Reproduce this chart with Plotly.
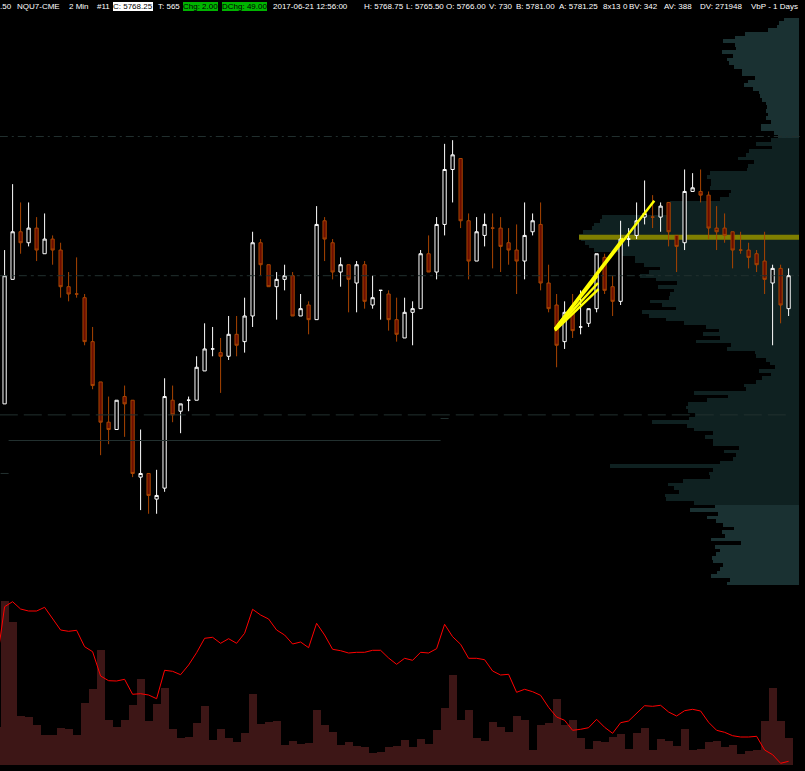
import plotly.graph_objects as go

# ---------------- price candles (2 min bars, index 0..98) ----------------
opens = [5759.5, 5768.0, 5771.25, 5770.5, 5771.5, 5769.75, 5770.75, 5770.0, 5767.5, 5767.0,
         5766.75, 5763.75, 5761.0, 5758.25, 5757.75, 5760.0, 5759.75, 5754.5, 5754.75, 5753.0,
         5753.75, 5759.75, 5759.0, 5759.75, 5759.75, 5761.75, 5763.25, 5763.0, 5762.75, 5764.25,
         5763.75, 5765.5, 5770.5, 5769.0, 5767.5, 5768.0, 5768.25, 5765.5, 5766.25, 5765.25,
         5772.0, 5770.5, 5768.5, 5769.0, 5767.75, 5769.0, 5766.25, 5767.25, 5767.0, 5765.25,
         5764.0, 5765.75, 5766.0, 5769.75, 5768.5, 5771.75, 5775.5, 5776.25, 5772.0, 5769.25,
         5771.0, 5771.5, 5771.5, 5770.5, 5770.0, 5769.25, 5771.25, 5771.75, 5767.75, 5766.25,
         5763.75, 5766.0, 5764.75, 5765.0, 5766.0, 5769.5, 5767.5, 5766.5, 5770.75, 5771.0,
         5772.25, 5772.25, 5772.25, 5773.25, 5771.0, 5770.5, 5774.0, 5774.0, 5773.75, 5771.5,
         5771.5, 5771.25, 5770.0, 5770.0, 5769.75, 5769.25, 5767.75, 5768.75, 5766.0]
highs = [5770.0, 5774.5, 5773.25, 5773.25, 5772.25, 5772.5, 5771.0, 5770.5, 5768.5, 5769.5,
         5767.0, 5764.75, 5761.0, 5760.0, 5759.75, 5760.75, 5759.75, 5757.75, 5754.75, 5755.0,
         5761.25, 5760.75, 5759.5, 5760.0, 5762.75, 5765.0, 5764.75, 5764.0, 5765.5, 5765.5,
         5766.75, 5771.25, 5770.75, 5769.0, 5768.5, 5769.0, 5768.5, 5767.0, 5766.5, 5773.0,
         5772.25, 5770.75, 5769.5, 5769.0, 5769.25, 5769.25, 5768.25, 5767.25, 5767.25, 5766.75,
         5766.75, 5766.5, 5770.0, 5771.0, 5772.25, 5777.25, 5777.5, 5776.25, 5772.5, 5772.25,
         5772.5, 5772.5, 5772.25, 5771.5, 5771.75, 5773.25, 5772.5, 5773.25, 5769.0, 5767.0,
         5766.5, 5767.0, 5767.25, 5766.0, 5769.75, 5769.75, 5768.25, 5772.0, 5771.5, 5773.25,
         5774.75, 5773.75, 5773.25, 5773.25, 5771.0, 5775.5, 5775.25, 5775.5, 5774.0, 5773.0,
         5772.5, 5771.25, 5771.25, 5770.5, 5770.0, 5771.25, 5769.0, 5769.0, 5768.75]
lows = [5759.5, 5768.0, 5769.75, 5770.25, 5769.25, 5769.75, 5769.0, 5766.75, 5766.5, 5766.75,
        5763.5, 5760.5, 5756.0, 5756.75, 5757.75, 5757.25, 5754.5, 5752.25, 5752.0, 5752.0,
        5753.5, 5758.25, 5757.5, 5759.0, 5759.75, 5761.75, 5762.75, 5760.25, 5762.5, 5762.75,
        5763.0, 5764.75, 5768.25, 5767.5, 5765.25, 5767.25, 5765.5, 5765.5, 5764.25, 5765.25,
        5769.25, 5768.0, 5767.5, 5765.75, 5765.75, 5766.0, 5766.0, 5765.25, 5764.5, 5763.75,
        5764.0, 5763.5, 5766.0, 5768.5, 5768.0, 5771.0, 5773.25, 5771.5, 5768.0, 5769.25,
        5770.25, 5768.75, 5768.5, 5769.0, 5767.0, 5768.0, 5771.0, 5767.25, 5765.75, 5762.0,
        5763.25, 5764.0, 5764.25, 5764.75, 5765.75, 5767.0, 5765.5, 5766.25, 5770.25, 5770.75,
        5771.75, 5771.5, 5771.25, 5770.25, 5768.5, 5770.0, 5774.0, 5773.25, 5770.75, 5770.0,
        5770.5, 5768.75, 5769.75, 5768.75, 5768.5, 5767.0, 5763.5, 5765.0, 5765.5]
closes = [5768.25, 5771.25, 5770.5, 5771.5, 5770.0, 5770.75, 5770.0, 5767.5, 5767.0, 5767.0,
          5763.75, 5760.75, 5758.25, 5757.75, 5759.75, 5759.5, 5754.75, 5754.75, 5753.25, 5753.25,
          5760.0, 5758.75, 5759.5, 5759.75, 5762.0, 5763.25, 5763.25, 5762.75, 5764.25, 5763.5,
          5765.5, 5770.5, 5769.0, 5767.5, 5768.0, 5768.25, 5765.5, 5766.0, 5765.25, 5771.75,
          5770.75, 5768.5, 5769.0, 5768.0, 5769.0, 5766.5, 5766.75, 5767.25, 5765.25, 5764.25,
          5765.75, 5766.0, 5769.75, 5768.5, 5771.75, 5775.5, 5776.5, 5772.0, 5769.25, 5771.25,
          5771.75, 5771.5, 5770.25, 5770.0, 5769.25, 5771.0, 5772.0, 5767.75, 5766.0, 5763.5,
          5765.75, 5764.5, 5764.75, 5766.0, 5769.75, 5767.25, 5766.5, 5770.75, 5770.75, 5772.0,
          5772.5, 5772.25, 5773.0, 5771.25, 5770.25, 5774.0, 5774.25, 5773.75, 5771.5, 5771.25,
          5771.0, 5770.0, 5770.0, 5769.5, 5769.0, 5768.0, 5768.75, 5766.25, 5768.25]
doji_white = [23, 26, 47, 72, 78]   # open == close bars drawn as up bars

# ---------------- volume pane (index -1 .. 98) ----------------
volumes = [1026, 4428, 3861, 1323, 1296, 1080, 810, 810, 999, 972,
           810, 1674, 2052, 3105, 1215, 1026, 1215, 1620, 2322, 1188,
           1647, 2079, 972, 729, 756, 1134, 1593, 675, 972, 729,
           621, 864, 1917, 1107, 1161, 1188, 540, 648, 567, 594,
           1485, 1080, 891, 540, 621, 513, 486, 324, 351, 486,
           513, 675, 486, 702, 567, 945, 1539, 2430, 1215, 1485,
           729, 648, 1161, 1026, 891, 1323, 1215, 405, 1080, 1134,
           1782, 1080, 1215, 729, 432, 648, 621, 756, 837, 432,
           864, 999, 405, 702, 648, 513, 972, 405, 432, 621,
           648, 486, 540, 297, 378, 405, 1188, 2079, 1188, 730]
indicator = [101.3, 158.3, 163.3, 156.0, 154.0, 154.0, 157.7, 145.7, 135.0, 133.7,
             134.7, 118.3, 113.3, 89.0, 84.3, 84.0, 85.7, 70.7, 71.3, 70.0,
             66.3, 94.7, 93.7, 90.3, 100.0, 112.3, 126.7, 127.7, 121.7, 126.3,
             121.7, 131.7, 155.7, 150.0, 146.0, 135.0, 130.0, 121.0, 123.0, 117.3,
             141.7, 130.0, 115.7, 114.3, 112.0, 112.7, 112.7, 114.7, 114.7, 107.0,
             100.7, 106.7, 104.7, 112.7, 112.0, 116.3, 140.7, 128.3, 120.7, 106.7,
             106.7, 105.3, 94.0, 90.0, 90.7, 72.7, 75.7, 73.3, 69.7, 57.7,
             48.0, 44.7, 34.7, 35.7, 37.3, 45.7, 37.7, 31.7, 42.3, 44.0,
             51.7, 59.3, 58.7, 59.7, 53.0, 49.0, 54.3, 55.7, 54.0, 42.7,
             34.7, 32.7, 29.3, 28.0, 28.0, 28.7, 15.0, 10.3, 1.7, 3.7]

# ---------------- volume-by-price profile (1 day) ----------------
vbp_top_price = 5785.75
vbp_tick = 0.25
vbp_volume = [15, 20, 22, 31, 54, 64, 76, 64, 63, 77,
              66, 72, 70, 65, 57, 57, 44, 51, 55, 46,
              40, 39, 37, 33, 32, 33, 31, 33, 28, 38,
              38, 25, 21, 28, 43, 27, 50, 53, 61, 45,
              51, 52, 89, 92, 88, 88, 89, 68, 70, 79,
              129, 129, 129, 129, 197, 199, 205, 207, 216, 220,
              218, 214, 210, 205, 179, 164, 164, 155, 139, 150,
              159, 143, 122, 141, 125, 129, 130, 149, 137, 123,
              157, 150, 133, 115, 93, 80, 96, 79, 103, 68,
              72, 44, 43, 33, 29, 24, 40, 28, 37, 43,
              55, 53, 105, 71, 92, 111, 113, 111, 104, 110,
              147, 112, 105, 86, 94, 86, 86, 60, 75, 63,
              66, 79, 189, 86, 90, 89, 116, 131, 125, 120,
              134, 133, 105, 84, 109, 81, 92, 83, 76, 65,
              77, 74, 88, 58, 84, 79, 83, 87, 86, 76,
              79, 82, 88, 69, 72]
value_area_high = 5777.5
value_area_low = 5752.75

# horizontal reference levels: (price, start index, end index, dash)
levels = [(5777.75, -0.6, 99.4, "8px,4px,2px,4px"),
          (5768.25, -0.6, 99.3, "8px,4px,3px,4px"),
          (5758.75, -0.6, 98.3, "18px,6px"),
          (5757.0, 0.5, 54.5, "solid"),
          (5758.5, 54.5, 55.5, "solid"),
          (5754.75, -0.5, 0.5, "solid")]

# drawn trend lines: (x0, y0, x1, y1) in bar index / price
trend_lines = [(68.8, 5764.63, 81.21, 5773.37),
               (68.8, 5764.63, 77.30, 5770.80),
               (68.8, 5764.57, 74.18, 5767.75),
               (68.8, 5764.50, 74.24, 5767.34),
               (68.8, 5764.60, 74.11, 5768.23)]

W, H = 805, 771
RED_LINE = "#a84400"
RED_FILL = "#6b0d00"

n = len(opens)
up_idx = [i for i in range(n) if closes[i] > opens[i] or (closes[i] == opens[i] and i in doji_white)]
dn_idx = [i for i in range(n) if i not in up_idx]

fig = go.Figure()

# profile (base subplot x/y)
vbp_prices = [vbp_top_price - vbp_tick * k for k in range(len(vbp_volume))]
vbp_colors = ["#0f2121" if value_area_low <= p <= value_area_high else "#1a3132" for p in vbp_prices]
fig.add_trace(go.Bar(y=vbp_prices, x=vbp_volume, base=0, orientation="h", width=vbp_tick,
                     marker=dict(color=vbp_colors, line=dict(width=0)),
                     xaxis="x", yaxis="y", hoverinfo="skip"))
poc_k = max(range(len(vbp_volume)), key=lambda k: vbp_volume[k])
fig.add_trace(go.Scatter(x=[0, vbp_volume[poc_k]], y=[vbp_prices[poc_k] - vbp_tick / 2] * 2, mode="lines",
                         line=dict(color="#7f7f00", width=5), xaxis="x", yaxis="y", hoverinfo="skip"))

# levels (overlay subplot x2/y)
for p, a, b, d in levels:
    fig.add_trace(go.Scatter(x=[a, b], y=[p, p], mode="lines",
                             line=dict(color="#22302f", width=1, dash=d),
                             xaxis="x2", yaxis="y", hoverinfo="skip"))

def candle(idx, line_col, fill_col):
    side = dict(line=dict(color=line_col, width=1), fillcolor=fill_col)
    return go.Candlestick(x=idx, open=[opens[i] for i in idx], high=[highs[i] for i in idx],
                          low=[lows[i] for i in idx], close=[closes[i] for i in idx],
                          increasing=side, decreasing=side, whiskerwidth=0,
                          xaxis="x2", yaxis="y", hoverinfo="skip")

fig.add_trace(candle(dn_idx, RED_LINE, RED_FILL))
fig.add_trace(candle(up_idx, "#ffffff", "#000000"))

for x0, y0, x1, y1 in trend_lines:
    fig.add_trace(go.Scatter(x=[x0, x1], y=[y0, y1], mode="lines",
                             line=dict(color="#ffff00", width=2.5), xaxis="x2", yaxis="y", hoverinfo="skip"))

# volume pane
vol_x = list(range(-1, -1 + len(volumes)))
fig.add_trace(go.Bar(x=vol_x, y=volumes, width=1, marker=dict(color="#3d1616", line=dict(width=0)),
                     xaxis="x3", yaxis="y2", hoverinfo="skip"))
fig.add_trace(go.Scatter(x=list(range(-1, -1 + len(indicator))), y=indicator, mode="lines",
                         line=dict(color="#ff0000", width=1), xaxis="x3", yaxis="y3", hoverinfo="skip"))

# header
hdr = [(0, ".50", None),
       (17, "NQU7-CME", None),
       (69, "2 Min", None),
       (97, "#11", None),
       (113, f"C: {closes[-1]:.2f}", "#ffffff"),
       (158, "T: 565", None),
       (183, "Chg: 2.00", "#00b400"),
       (222, "DChg: 49.00", "#00b400"),
       (273, "2017-06-21 12:56:00", None),
       (364, f"H: {highs[-1]:.2f}", None),
       (406, f"L: {lows[-1]:.2f}", None),
       (446, f"O: {opens[-1]:.2f}", None),
       (489, f"V: {volumes[-1]}", None),
       (516, "B: 5781.00", None),
       (559, "A: 5781.25", None),
       (603, "8x13", None),
       (623, "0", None),
       (629, "BV: 342", None),
       (664, "AV: 388", None),
       (700, "DV: 271948", None)]
ann = []
for x, t, bg in hdr:
    a = dict(x=x / W, y=1 - 7 / H, xref="paper", yref="paper", xanchor="left", yanchor="middle",
             text=t, showarrow=False, borderpad=0, borderwidth=0,
             font=dict(family="Liberation Sans", size=8, color="#000000" if bg else "#ffffff"))
    if bg:
        a["bgcolor"] = bg
    ann.append(a)
ann.append(dict(x=798 / W, y=1 - 7 / H, xref="paper", yref="paper", xanchor="right", yanchor="middle",
                text="VbP - 1 Days", showarrow=False, borderpad=0, borderwidth=0,
                font=dict(family="Liberation Sans", size=8, color="#ffffff")))

PX = 14.65           # pixels per point
REF_P, REF_Y = 5768.25, 275.7
top_px, bot_px = 18, 592
y_lo = REF_P - (bot_px - REF_Y) / PX
y_hi = REF_P + (REF_Y - top_px) / PX
idx_range = [-4.6 / 8, (W - 4.6) / 8]

fig.update_layout(
    width=W, height=H, margin=dict(l=0, r=0, t=0, b=0),
    paper_bgcolor="#000000", plot_bgcolor="#000000", showlegend=False,
    bargap=0, boxgap=0.42, hovermode=False, annotations=ann,
    xaxis=dict(domain=[0, 1], range=[799, 799 - W], visible=False, anchor="y",
               rangeslider=dict(visible=False)),
    xaxis2=dict(overlaying="x", range=idx_range, visible=False, anchor="y",
                rangeslider=dict(visible=False)),
    xaxis3=dict(domain=[0, 1], range=idx_range, visible=False, anchor="y2"),
    yaxis=dict(domain=[(H - bot_px) / H, (H - top_px) / H], range=[y_lo, y_hi], visible=False, anchor="x"),
    yaxis2=dict(domain=[(H - 765) / H, (H - 598) / H], range=[0, 167 * 27], visible=False, anchor="x3"),
    yaxis3=dict(overlaying="y2", range=[0, 167], visible=False, anchor="x3"),
)

fig.write_html("out.html", config={"displayModeBar": False},
               post_script="document.body.style.margin='0';document.body.style.overflow='hidden';")
